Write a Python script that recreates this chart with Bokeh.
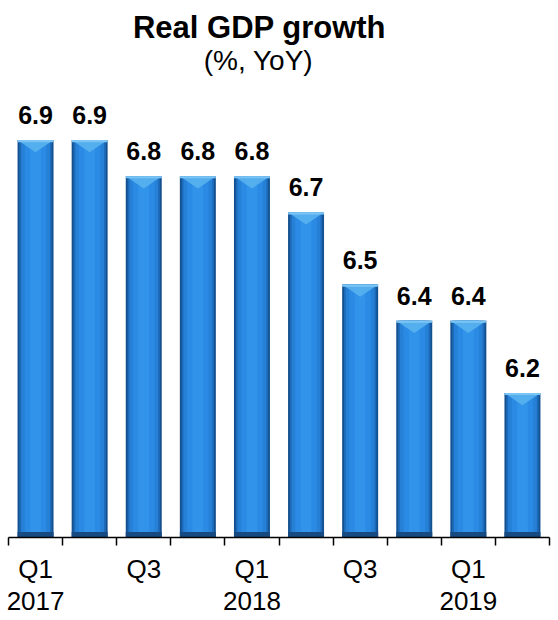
from bokeh.plotting import figure
from bokeh.models import ColumnDataSource, LabelSet, Label, FixedTicker, Range1d
from bokeh.core.properties import value
from bokeh.embed import file_html
from bokeh.resources import INLINE

# ---- data ----
quarters = ["Q1 2017", "Q2 2017", "Q3 2017", "Q4 2017", "Q1 2018",
            "Q2 2018", "Q3 2018", "Q4 2018", "Q1 2019", "Q2 2019"]
growth = [6.9, 6.9, 6.8, 6.8, 6.8, 6.7, 6.5, 6.4, 6.4, 6.2]
tick_positions = [1, 3, 5, 7, 9]
tick_labels = ["Q1\n2017", "Q3", "Q1\n2018", "Q3", "Q1\n2019"]
title_text = "Real GDP growth"
subtitle_text = "(%, YoY)"

FONT = "Liberation Sans"
Y0, Y1 = 5.8, 7.286
BAR_W = 0.665

xs = list(range(1, len(growth) + 1))
labels_txt = [f"{v:.1f}" for v in growth]
bevel = 0.034
tri_xs = [[x - BAR_W / 2, x + BAR_W / 2, x] for x in xs]
tri_ys = [[v, v, v - bevel] for v in growth]
strip_bottom = [v - 0.006 for v in growth]

src = ColumnDataSource(dict(x=xs, top=growth, label=labels_txt, q=quarters,
                            strip=strip_bottom))

p = figure(width=558, height=620, output_backend="svg", toolbar_location=None,
           x_range=Range1d(0.5, 10.5), y_range=Range1d(Y0, Y1),
           min_border_left=8, min_border_right=9, min_border_top=0,
           min_border_bottom=83)
p.outline_line_color = None
p.xgrid.visible = False
p.ygrid.visible = False
p.yaxis.visible = False
p.background_fill_color = "white"
p.border_fill_color = "white"

# layered bars to mimic the beveled gradient look
p.vbar(x="x", top="top", bottom=Y0, width=BAR_W, source=src,
       fill_color="#13508f", line_color=None)
p.vbar(x="x", top="top", bottom=Y0, width=BAR_W * 0.9, source=src,
       fill_color="#1d6ab8", line_color=None)
p.vbar(x="x", top="top", bottom=Y0, width=BAR_W * 0.8, source=src,
       fill_color="#2580d6", line_color=None)
p.vbar(x="x", top="top", bottom=Y0, width=BAR_W * 0.6, source=src,
       fill_color="#2b8ae3", line_color=None)
p.vbar(x="x", top="top", bottom=Y0, width=BAR_W * 0.3, source=src,
       fill_color="#3193ea", line_color=None)
p.vbar(x="x", top=Y0 + 0.015, bottom=Y0, width=BAR_W, source=src,
       fill_color="#164a80", line_color=None)
p.patches(tri_xs, tri_ys, fill_color="#56b0ee", line_color=None, fill_alpha=0.95)
p.vbar(x="x", top="top", bottom="strip", width=BAR_W,
       source=src, fill_color="#7cc4f3", line_color=None)

# value labels
p.add_layout(LabelSet(x="x", y="top", text="label", source=src, y_offset=16,
                      text_align="center", text_baseline="alphabetic",
                      text_font=value(FONT), text_font_style="bold",
                      text_font_size="25px", text_color="black"))

# titles
p.add_layout(Label(x=5.14, y=7.211, text=title_text, text_align="center",
                   text_baseline="alphabetic", text_font=FONT,
                   text_font_style="bold", text_font_size="31px",
                   text_color="black"))
p.add_layout(Label(x=5.12, y=7.120, text=subtitle_text, text_align="center",
                   text_baseline="alphabetic", text_font=FONT,
                   text_font_size="28px", text_color="black"))

# x axis
ax = p.xaxis[0]
ax.ticker = FixedTicker(ticks=tick_positions,
                        minor_ticks=[0.5 + i for i in range(len(growth) + 1)])
ax.major_label_overrides = {t: l for t, l in zip(tick_positions, tick_labels)}
ax.major_tick_out = 0
ax.major_tick_in = 0
ax.minor_tick_out = 8
ax.minor_tick_in = 0
ax.minor_tick_line_color = "black"
ax.minor_tick_line_width = 1.5
ax.axis_line_color = "black"
ax.axis_line_width = 1.5
ax.major_label_standoff = 8
ax.major_label_text_font = FONT
ax.major_label_text_font_size = "26px"
ax.major_label_text_color = "black"
ax.major_label_text_line_height = 1.08

open("out.html", "w").write(file_html(p, INLINE))
